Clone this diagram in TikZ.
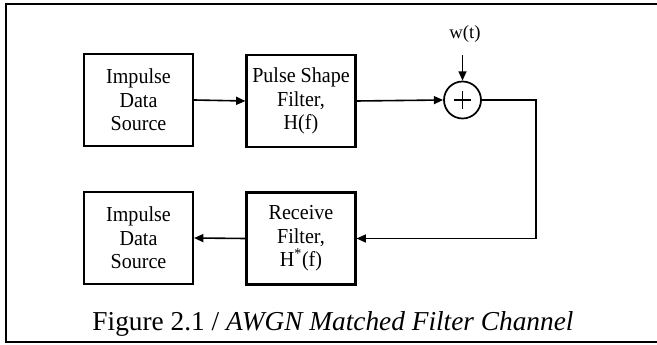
\documentclass[tikz,border=0pt]{standalone}
\usepackage{fontspec}
\setmainfont{Liberation Serif}
\newfontfamily\boxfont[FakeStretch=0.94]{Liberation Serif}
\usetikzlibrary{arrows.meta}
\begin{document}
\begin{tikzpicture}[x=0.75pt,y=-0.75pt,
  blk/.style={draw, line width=1.6pt, minimum width=81.75pt, minimum height=69pt,
    inner sep=0pt, align=center, font=\boxfont\fontsize{16}{17.6}\selectfont},
  conn/.style={line width=1.2pt, -{Triangle[length=7pt,width=6pt]}},
  plain/.style={line width=1.2pt}]
\useasboundingbox (0,0) rectangle (657,345);
\draw[line width=1.4pt] (660,4) -- (6,4) -- (6,342) -- (660,342);
\node[blk] (src1) at (138.5,100) {Impulse\\Data\\Source};
\node[blk] (psf) at (301,101) {Pulse Shape\\Filter,\\H(f)};
\node[blk] (src2) at (138.5,238) {Impulse\\Data\\Source};
\node[blk] (rcv) at (301,238.5) {Receive\\Filter,\\H\textsuperscript{*}(f)};
\node[draw, circle, line width=1.3pt, minimum size=27.75pt, inner sep=0pt] (sum) at (462.5,100) {};
\draw[line width=1.1pt] ([xshift=-6.5pt]sum.center) -- ([xshift=6.5pt]sum.center)
  ([yshift=-6.8pt]sum.center) -- ([yshift=6.8pt]sum.center);
\node[font=\fontsize{14}{16}\selectfont] (w) at (465,34) {w(t)};
\coordinate (wtop) at (462.5,55);
\coordinate (c1) at (536,100);
\node[anchor=base, font=\fontsize{20.5}{24}\selectfont] (cap) at (333,330) {Figure 2.1 / \textit{AWGN Matched Filter Channel}};
\draw[conn] (src1.east) -- (psf.west);
\draw[conn] (psf.east) -- (sum.west);
\draw[conn] (wtop) -- (sum.north);
\draw[conn] (sum.east) -- (c1) |- (rcv.east);
\draw[conn] (rcv.west) -- (src2.east);
\end{tikzpicture}
\end{document}
